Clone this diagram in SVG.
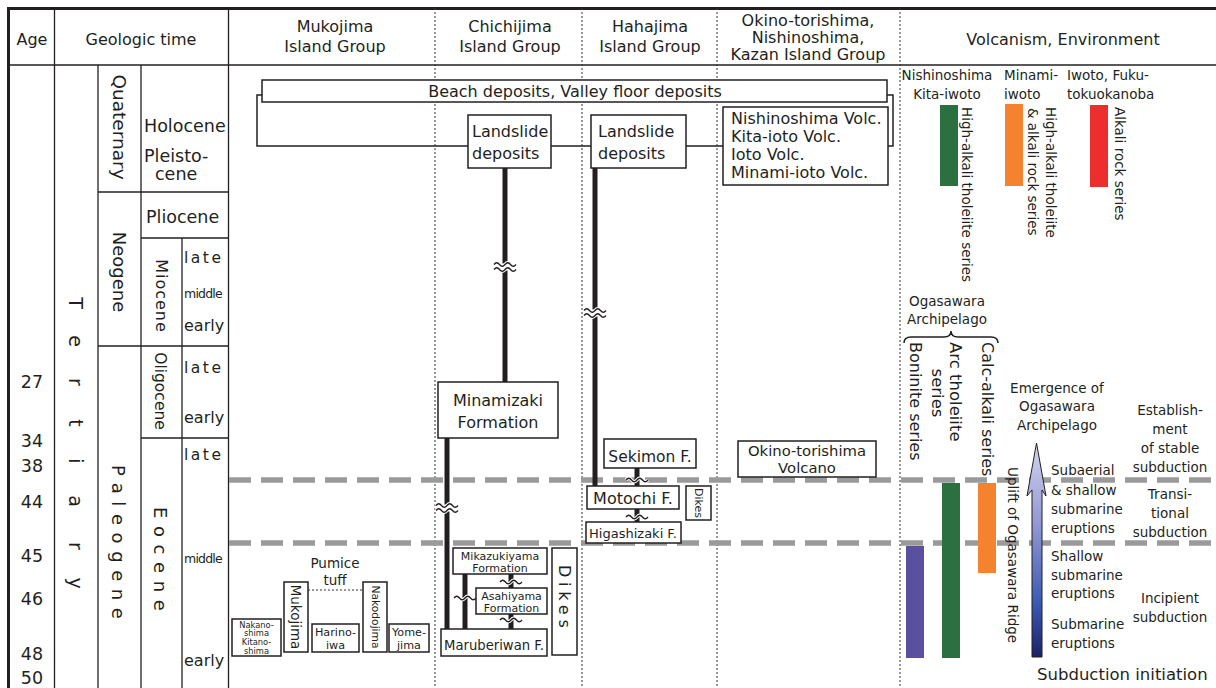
<svg xmlns="http://www.w3.org/2000/svg" width="1216" height="688" viewBox="0 0 1216 688">
<defs>
<linearGradient id="ag" x1="0" y1="0" x2="0" y2="1">
<stop offset="0" stop-color="#d6d4f0"/>
<stop offset="0.4" stop-color="#8d94d2"/>
<stop offset="0.75" stop-color="#3a5ab2"/>
<stop offset="1" stop-color="#1a2268"/>
</linearGradient>
<path id="w" d="M-11,0 q2.75,-3.5 5.5,0 t5.5,0 t5.5,0 t5.5,0"/>
</defs>
<style>
text{font-family:"DejaVu Sans","Liberation Sans",sans-serif;fill:#231f20}
.m{text-anchor:middle}
.v{dominant-baseline:central}
.f16{font-size:16px}
.f13{font-size:13.5px}
.f11{font-size:11px}
.grid{stroke:#231f20;stroke-width:1.3;fill:none}
.dot{stroke:#333;stroke-width:1;stroke-dasharray:2 2}
.gd{stroke:#9a9a9a;stroke-width:5.5;stroke-dasharray:22 10}
.box{fill:#fff;stroke:#231f20;stroke-width:1.5}
.thick{stroke:#231f20;stroke-width:5}
.wh{fill:none;stroke:#fff;stroke-width:3.5}
.wd{fill:none;stroke:#231f20;stroke-width:1.3}
</style>
<rect width="1216" height="688" fill="#fff"/>

<g id="frame">
<line class="grid" x1="8" y1="8.5" x2="1216" y2="8.5" style="stroke-width:3"/>
<line class="grid" x1="8.5" y1="7" x2="8.5" y2="688" style="stroke-width:3"/>
<line class="grid" x1="8" y1="65" x2="1216" y2="65" style="stroke-width:1.6"/>
<line class="grid" x1="54.5" y1="8" x2="54.5" y2="688"/>
<line class="grid" x1="228.5" y1="8" x2="228.5" y2="688"/>
<line class="grid" x1="98" y1="65" x2="98" y2="688"/>
<line class="grid" x1="141" y1="65" x2="141" y2="688"/>
<line class="grid" x1="182" y1="238" x2="182" y2="688"/>
<line class="grid" x1="98" y1="192" x2="228" y2="192"/>
<line class="grid" x1="141" y1="238" x2="228" y2="238"/>
<line class="grid" x1="98" y1="346" x2="228" y2="346"/>
<line class="grid" x1="141" y1="438" x2="228" y2="438"/>
<line class="dot" x1="435" y1="8" x2="435" y2="688"/>
<line class="dot" x1="582" y1="8" x2="582" y2="688"/>
<line class="dot" x1="717" y1="8" x2="717" y2="688"/>
<line class="dot" x1="900" y1="8" x2="900" y2="688"/>
</g>

<g id="header">
<text class="f16 m" x="32" y="45">Age</text>
<text class="f16 m" x="141" y="45">Geologic time</text>
<text class="f16 m" x="335" y="32">Mukojima</text>
<text class="f16 m" x="335" y="52">Island Group</text>
<text class="f16 m" x="510" y="32">Chichijima</text>
<text class="f16 m" x="510" y="52">Island Group</text>
<text class="f16 m" x="650" y="32">Hahajima</text>
<text class="f16 m" x="650" y="52">Island Group</text>
<text class="f16 m" x="808" y="26">Okino-torishima,</text>
<text class="f16 m" x="808" y="43">Nishinoshima,</text>
<text class="f16 m" x="808" y="60">Kazan Island Group</text>
<text class="f16 m" x="1063" y="45">Volcanism, Environment</text>
</g>

<g id="ages" style="font-size:17.5px">
<text class="m" x="32" y="388">27</text>
<text class="m" x="32" y="447">34</text>
<text class="m" x="32" y="472">38</text>
<text class="m" x="32" y="508">44</text>
<text class="m" x="32" y="562">45</text>
<text class="m" x="32" y="605">46</text>
<text class="m" x="32" y="660">48</text>
<text class="m" x="32" y="684">50</text>
</g>

<g id="geotime">
<text class="v m" transform="translate(76,0) rotate(90)" x="303 341 382 423 461 501 546 583" style="font-size:19px">Tertiary</text>
<text class="v m" transform="translate(119,127) rotate(90)" style="font-size:18.5px">Quaternary</text>
<text class="v m" transform="translate(119,272) rotate(90)" style="font-size:18px">Neogene</text>
<text class="v" transform="translate(118,465) rotate(90)" style="font-size:18px;letter-spacing:7.6px">Paleogene</text>
<text class="v m" transform="translate(161,296) rotate(90)" style="font-size:16px;letter-spacing:1px">Miocene</text>
<text class="v m" transform="translate(160,391) rotate(90)" style="font-size:15.5px">Oligocene</text>
<text class="v" transform="translate(160,507) rotate(90)" style="font-size:18px;letter-spacing:7.6px">Eocene</text>
<text x="144" y="132" style="font-size:17.5px">Holocene</text>
<text x="144" y="162" style="font-size:17.5px">Pleisto-</text>
<text x="155" y="180" style="font-size:17.5px">cene</text>
<text x="146" y="223" style="font-size:17.5px">Pliocene</text>
<text x="184" y="263" style="font-size:15.5px;letter-spacing:2.5px">late</text>
<text x="184" y="298" style="font-size:12.5px;letter-spacing:-0.8px">middle</text>
<text x="184" y="331" style="font-size:16px">early</text>
<text x="184" y="373" style="font-size:15.5px;letter-spacing:2.5px">late</text>
<text x="184" y="423" style="font-size:16px">early</text>
<text x="184" y="460" style="font-size:15.5px;letter-spacing:2.5px">late</text>
<text x="184" y="563" style="font-size:12.5px;letter-spacing:-0.8px">middle</text>
<text x="184" y="666" style="font-size:16px">early</text>
</g>

<g id="connectors">
<line class="gd" x1="229" y1="480" x2="1216" y2="480"/>
<line class="gd" x1="229" y1="543" x2="1216" y2="543"/>
<polyline class="grid" points="262,95 257,95 257,146 893,146 893,95 887,95" style="stroke-width:1.5"/>
<line class="dot" x1="308" y1="590" x2="363" y2="590" style="stroke-width:1.2"/>
<line class="thick" x1="505" y1="168" x2="505" y2="382"/>
<line class="thick" x1="595" y1="168" x2="595" y2="486"/>
<line class="thick" x1="447" y1="438" x2="447" y2="629"/>
<line class="thick" x1="465" y1="574" x2="465" y2="629"/>
<line class="thick" x1="511" y1="574" x2="511" y2="588"/>
<line class="thick" x1="511" y1="614" x2="511" y2="629"/>
<line class="thick" x1="637" y1="468" x2="637" y2="486"/>
<line class="thick" x1="637" y1="509" x2="637" y2="522"/>
<g id="waves">
<g transform="translate(505,267)"><rect x="-4" y="-3.5" width="8" height="7" fill="#fff"/><use href="#w" class="wh" y="-2.5"/><use href="#w" class="wh" y="2.5"/><use href="#w" class="wd" y="-2.5"/><use href="#w" class="wd" y="2.5"/></g>
<g transform="translate(595,313)"><rect x="-4" y="-3.5" width="8" height="7" fill="#fff"/><use href="#w" class="wh" y="-2.5"/><use href="#w" class="wh" y="2.5"/><use href="#w" class="wd" y="-2.5"/><use href="#w" class="wd" y="2.5"/></g>
<g transform="translate(447,508)"><rect x="-4" y="-3.5" width="8" height="7" fill="#fff"/><use href="#w" class="wh" y="-2.5"/><use href="#w" class="wh" y="2.5"/><use href="#w" class="wd" y="-2.5"/><use href="#w" class="wd" y="2.5"/></g>
<g transform="translate(465,598)"><use href="#w" class="wh"/><use href="#w" class="wd"/></g>
<g transform="translate(511,582)"><use href="#w" class="wh"/><use href="#w" class="wd"/></g>
<g transform="translate(511,620)"><use href="#w" class="wh"/><use href="#w" class="wd"/></g>
<g transform="translate(637,480)"><use href="#w" class="wh"/><use href="#w" class="wd"/></g>
<g transform="translate(637,517)"><use href="#w" class="wh"/><use href="#w" class="wd"/></g>
</g>
</g>

<g id="beach"><rect class="box" x="262" y="80" width="625" height="22"/><text class="f16 m" x="575" y="97">Beach deposits, Valley floor deposits</text></g>
<g id="landslide-chichi"><rect class="box" x="468" y="115" width="83" height="53"/><text class="f16" x="472" y="137">Landslide</text><text class="f16" x="472" y="159">deposits</text></g>
<g id="landslide-haha"><rect class="box" x="591" y="115" width="95" height="53"/><text class="f16" x="598" y="137">Landslide</text><text class="f16" x="598" y="159">deposits</text></g>
<g id="kazan-volc"><rect class="box" x="723" y="107" width="165" height="78"/>
<text class="f16" x="731" y="124">Nishinoshima Volc.</text>
<text class="f16" x="731" y="142">Kita-ioto Volc.</text>
<text class="f16" x="731" y="160">Ioto Volc.</text>
<text class="f16" x="731" y="178">Minami-ioto Volc.</text></g>
<g id="minamizaki"><rect class="box" x="438" y="382" width="120" height="56"/><text class="f16 m" x="498" y="406">Minamizaki</text><text class="f16 m" x="498" y="428">Formation</text></g>
<g id="mikazukiyama"><rect class="box" x="453" y="548" width="94" height="26"/><text class="f11 m" x="500" y="559.5">Mikazukiyama</text><text class="f11 m" x="500" y="572.3">Formation</text></g>
<g id="asahiyama"><rect class="box" x="476" y="588" width="71" height="26"/><text class="f11 m" x="511.5" y="599.5">Asahiyama</text><text class="f11 m" x="511.5" y="612.3">Formation</text></g>
<g id="maruberiwan"><rect class="box" x="441" y="629" width="106" height="27"/><text class="m" x="494" y="650" style="font-size:13.2px">Maruberiwan F.</text></g>
<g id="dikes-chichi"><rect class="box" x="552" y="548" width="25" height="107"/><text class="v" transform="translate(564.5,565) rotate(90)" style="font-size:16px;letter-spacing:4.8px">Dikes</text></g>
<g id="sekimon"><rect class="box" x="604" y="439" width="92" height="29"/><text class="m" x="650" y="462" style="font-size:15.5px">Sekimon F.</text></g>
<g id="motochi"><rect class="box" x="587" y="486" width="92" height="23"/><text class="f16 m" x="633" y="504">Motochi F.</text></g>
<g id="higashizaki"><rect class="box" x="586" y="522" width="95" height="21"/><text class="m" x="633" y="538" style="font-size:13px">Higashizaki F.</text></g>
<g id="dikes-haha"><rect class="box" x="686" y="486" width="25" height="34"/><text class="v m" transform="translate(698.5,503) rotate(90)" style="font-size:11px">Dikes</text></g>
<g id="okino-volc"><rect class="box" x="738" y="441" width="138" height="36"/><text class="m" x="807" y="456" style="font-size:14.8px">Okino-torishima</text><text class="m" x="807" y="473.2" style="font-size:14.8px">Volcano</text></g>

<g id="pumice"><text class="f13 m" x="335" y="568">Pumice</text><text class="f13 m" x="335" y="585">tuff</text></g>
<g id="nakanoshima"><rect class="box" x="232" y="619" width="49" height="37"/>
<text class="m" x="256.5" y="627.5" style="font-size:8.3px">Nakano-</text>
<text class="m" x="256.5" y="636.4" style="font-size:8.3px">shima</text>
<text class="m" x="256.5" y="645.3" style="font-size:8.3px">Kitano-</text>
<text class="m" x="256.5" y="654.2" style="font-size:8.3px">shima</text></g>
<g id="mukojima"><rect class="box" x="284" y="582" width="24" height="70"/><text class="v m" transform="translate(296,617) rotate(90)" style="font-size:13.5px">Mukojima</text></g>
<g id="harinoiwa"><rect class="box" x="312" y="624" width="47" height="28"/><text class="m" x="335.5" y="636" style="font-size:11.2px">Harino-</text><text class="m" x="335.5" y="649" style="font-size:11.2px">iwa</text></g>
<g id="nakodojima"><rect class="box" x="363" y="582" width="24" height="70"/><text class="v m" transform="translate(375,617) rotate(90)" style="font-size:10.7px">Nakodojima</text></g>
<g id="yomejima"><rect class="box" x="389" y="624" width="40" height="28"/><text class="m" x="409" y="636" style="font-size:11.2px">Yome-</text><text class="m" x="409" y="649" style="font-size:11.2px">jima</text></g>

<g id="volcanism-young">
<text class="f13 m" x="947" y="80">Nishinoshima</text>
<text class="f13 m" x="947" y="99">Kita-iwoto</text>
<text class="f13" x="1004" y="80">Minami-</text>
<text class="f13" x="1004" y="99">iwoto</text>
<text class="f13" x="1067" y="80">Iwoto, Fuku-</text>
<text class="f13" x="1067" y="99">tokuokanoba</text>
<rect x="940" y="105" width="18" height="81" fill="#2d7040"/>
<rect x="1005" y="104" width="18" height="82" fill="#f5822f"/>
<rect x="1090" y="105" width="18" height="82" fill="#ed2d2e"/>
<text class="f13 v" transform="translate(967,107) rotate(90)">High-alkali tholeiite series</text>
<text class="f13 v" transform="translate(1051,107) rotate(90)">High-alkali tholeiite</text>
<text class="f13 v" transform="translate(1033,108) rotate(90)">&amp; alkali rock series</text>
<text class="f13 v" transform="translate(1120,107) rotate(90)">Alkali rock series</text>
</g>

<g id="volcanism-ogasawara">
<text class="f13 m" x="947" y="306">Ogasawara</text>
<text class="f13 m" x="947" y="324">Archipelago</text>
<path class="grid" d="M904,343 q0,-6 7,-6 h33 q7,0 7,-6 q0,6 7,6 h33 q7,0 7,6" style="stroke-width:1.5"/>
<text class="v" transform="translate(915,342) rotate(90)" style="font-size:16px">Boninite series</text>
<text class="v" transform="translate(955,342) rotate(90)" style="font-size:16.5px">Arc tholeiite</text>
<text class="v m" transform="translate(937,393) rotate(90)" style="font-size:16.5px">series</text>
<text class="v" transform="translate(987,342) rotate(90)" style="font-size:16px">Calc-alkali series</text>
<rect x="906" y="546" width="18" height="112" fill="#5a50a0"/>
<rect x="942" y="483" width="18" height="175" fill="#2d7040"/>
<rect x="978" y="483" width="18" height="90" fill="#f5822f"/>
<text class="f13 v" transform="translate(1013,467) rotate(90)">Uplift of Ogasawara Ridge</text>
</g>

<g id="arrow"><polygon points="1036.5,443 1046,496 1042,490 1042,657 1032,657 1032,490 1027,496" fill="url(#ag)" stroke="#231f20" stroke-width="1"/></g>

<g id="environment">
<text class="f13 m" x="1057" y="393">Emergence of</text>
<text class="f13 m" x="1057" y="411">Ogasawara</text>
<text class="f13 m" x="1057" y="430">Archipelago</text>
<text class="f13 m" x="1170" y="415">Establish-</text>
<text class="f13 m" x="1170" y="434">ment</text>
<text class="f13 m" x="1170" y="453">of stable</text>
<text class="f13 m" x="1170" y="472">subduction</text>
<text class="f13" x="1051" y="475">Subaerial</text>
<text class="f13" x="1051" y="495">&amp; shallow</text>
<text class="f13" x="1051" y="514">submarine</text>
<text class="f13" x="1051" y="533">eruptions</text>
<text class="f13 m" x="1170" y="499">Transi-</text>
<text class="f13 m" x="1170" y="518">tional</text>
<text class="f13 m" x="1170" y="537">subduction</text>
<text class="f13" x="1051" y="561">Shallow</text>
<text class="f13" x="1051" y="580">submarine</text>
<text class="f13" x="1051" y="598">eruptions</text>
<text class="f13 m" x="1170" y="603">Incipient</text>
<text class="f13 m" x="1170" y="622">subduction</text>
<text class="f13" x="1051" y="629">Submarine</text>
<text class="f13" x="1051" y="648">eruptions</text>
<text x="1037" y="680" style="font-size:16.5px">Subduction initiation</text>
</g>
</svg>
